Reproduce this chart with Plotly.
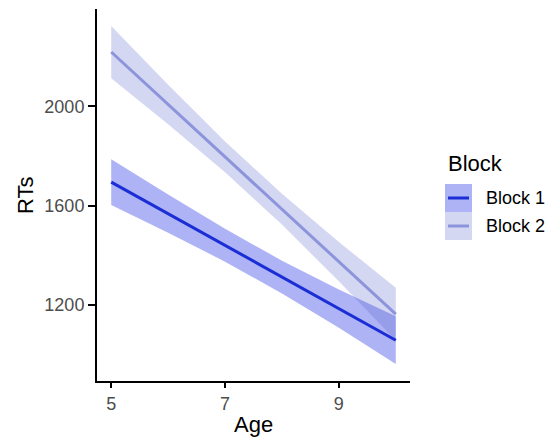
import plotly.graph_objects as go

# Data (fitted lines with confidence ribbons)
age = [5, 6, 7, 7.5, 8, 9, 10]

block1_fit = [1695, 1568, 1441, 1377, 1313, 1186, 1059]
block1_lo = [1603, 1491, 1375, 1312, 1247, 1109, 963]
block1_hi = [1787, 1645, 1507, 1442, 1379, 1263, 1155]

block2_fit = [2218, 2007, 1796, 1691, 1586, 1375, 1164]
block2_lo = [2113, 1928, 1734, 1631, 1524, 1296, 1058]
block2_hi = [2323, 2086, 1858, 1751, 1648, 1454, 1270]

series_names = ["Block 1", "Block 2"]
x_ticks = [5, 7, 9]
y_ticks = [1200, 1600, 2000]

line_colors = ["#1B2ED6", "#8C94DC"]
fill_colors = ["rgba(40,55,230,0.38)", "rgba(90,100,200,0.26)"]

FONT = "Liberation Sans, Arial, Helvetica, sans-serif"

fig = go.Figure()

series = [
    (block1_fit, block1_lo, block1_hi),
    (block2_fit, block2_lo, block2_hi),
]

# ribbons first
for i, (fit, lo, hi) in enumerate(series):
    fig.add_trace(go.Scatter(
        x=age + age[::-1], y=hi + lo[::-1],
        fill="toself", fillcolor=fill_colors[i],
        line=dict(width=0), mode="lines",
        hoverinfo="skip", showlegend=False,
    ))
# lines on top
for i, (fit, lo, hi) in enumerate(series):
    fig.add_trace(go.Scatter(
        x=age, y=fit, mode="lines",
        line=dict(color=line_colors[i], width=3),
        name=series_names[i], showlegend=False,
    ))

# plot area geometry in pixels
W, H = 551, 439
L, R, T, B = 97, 410, 9, 381
pw, ph = R - L, B - T


def px(x):
    return (x - L) / pw


def py(y):
    return (B - y) / ph


# custom legend (ggplot style) and axis titles
shapes = []
annotations = []
annotations.append(dict(
    x=px(446), y=py(163), xref="paper", yref="paper",
    text="Block", showarrow=False, xanchor="left", yanchor="middle",
    font=dict(family=FONT, size=22, color="black"),
))
annotations.append(dict(
    x=0.5, y=py(425), xref="paper", yref="paper",
    text="Age", showarrow=False, xanchor="center", yanchor="middle",
    font=dict(family=FONT, size=22, color="black"),
))
annotations.append(dict(
    x=px(25), y=0.5, xref="paper", yref="paper",
    text="RTs", showarrow=False, xanchor="center", yanchor="middle",
    textangle=-90,
    font=dict(family=FONT, size=22, color="black"),
))
key_tops = [184, 212]
for i, name in enumerate(series_names):
    y0 = key_tops[i]
    y1 = y0 + 28
    shapes.append(dict(
        type="rect", xref="paper", yref="paper",
        x0=px(445), x1=px(472), y0=py(y1), y1=py(y0),
        fillcolor=fill_colors[i], line=dict(width=0), layer="above",
    ))
    yc = (y0 + y1) / 2
    shapes.append(dict(
        type="line", xref="paper", yref="paper",
        x0=px(448), x1=px(469), y0=py(yc), y1=py(yc),
        line=dict(color=line_colors[i], width=3), layer="above",
    ))
    annotations.append(dict(
        x=px(484), y=py(yc), xref="paper", yref="paper",
        text=name, showarrow=False, xanchor="left", yanchor="middle",
        font=dict(family=FONT, size=18, color="black"),
    ))

fig.update_layout(
    width=W, height=H,
    margin=dict(l=L, r=W - R, t=T, b=H - B, pad=0, autoexpand=False),
    paper_bgcolor="white", plot_bgcolor="white",
    font=dict(family=FONT, color="black"),
    shapes=shapes, annotations=annotations,
    showlegend=False,
)
fig.update_xaxes(
    range=[4.75, 10.25], tickvals=x_ticks, ticktext=[str(v) for v in x_ticks],
    showgrid=False, zeroline=False, automargin=False,
    showline=True, linecolor="black", linewidth=2,
    ticks="outside", ticklen=5, tickwidth=2, tickcolor="black",
    tickfont=dict(family=FONT, size=18, color="#4D4D4D"),
)
fig.update_yaxes(
    range=[895, 2391], tickvals=y_ticks, ticktext=[str(v) for v in y_ticks],
    showgrid=False, zeroline=False, automargin=False,
    showline=True, linecolor="black", linewidth=2,
    ticks="outside", ticklen=7, tickwidth=2, tickcolor="black",
    tickfont=dict(family=FONT, size=18, color="#4D4D4D"),
)

fig.write_html(
    "out.html",
    config={"displayModeBar": False},
    post_script="document.body.style.margin='0';document.body.style.padding='0';document.body.style.overflow='hidden';",
)
